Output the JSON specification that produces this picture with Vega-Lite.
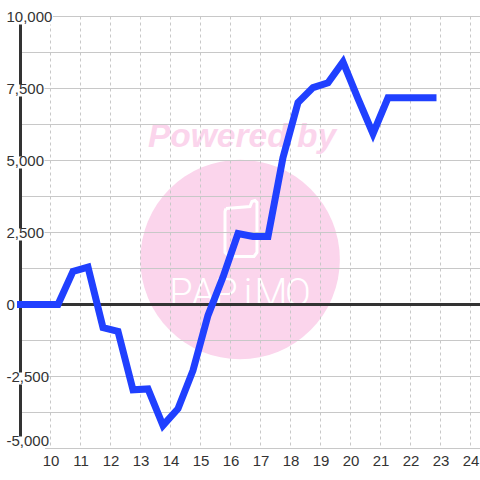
{
"$schema":"https://vega.github.io/schema/vega-lite/v6.json",
"width":459.5,"height":432,
"autosize":{"type":"none"},
"padding":{"left":20.5,"top":16.5,"right":0,"bottom":31.5},
"background":"white",
"view":{"stroke":null},
"config":{"axis":{"labelFont":"Liberation Sans","labelFontSize":15,"labelColor":"#333333"}},
"datasets":{
"series":[
{"hour":9,"v":0},{"hour":9.75,"v":0},{"hour":10.25,"v":0},{"hour":10.75,"v":1150},{"hour":11.25,"v":1300},{"hour":11.75,"v":-800},{"hour":12.25,"v":-930},{"hour":12.75,"v":-2960},{"hour":13.25,"v":-2930},{"hour":13.75,"v":-4200},{"hour":14.25,"v":-3620},{"hour":14.75,"v":-2290},{"hour":15.25,"v":-380},{"hour":15.75,"v":950},{"hour":16.25,"v":2465},{"hour":16.75,"v":2360},{"hour":17.25,"v":2360},{"hour":17.75,"v":5100},{"hour":18.25,"v":7010},{"hour":18.75,"v":7530},{"hour":19.25,"v":7700},{"hour":19.75,"v":8420},{"hour":20.25,"v":7150},{"hour":20.75,"v":5930},{"hour":21.25,"v":7175},{"hour":21.75,"v":7175},{"hour":22.25,"v":7175},{"hour":22.75,"v":7175}],
"ygrid":[{"v":-5000},{"v":-3750},{"v":-2500},{"v":-1250},{"v":0},{"v":1250},{"v":2500},{"v":3750},{"v":5000},{"v":6250},{"v":7500},{"v":8750},{"v":10000}],
"xgrid":[{"h":10},{"h":11},{"h":12},{"h":13},{"h":14},{"h":15},{"h":16},{"h":17},{"h":18},{"h":19},{"h":20},{"h":21},{"h":22},{"h":23},{"h":24}],
"knock":[
{"x1":8.9,"x2":10.083,"y1":10278,"y2":9722},
{"x1":8.9,"x2":9.8,"y1":7639,"y2":7222},
{"x1":8.9,"x2":9.8,"y1":5139,"y2":4722},
{"x1":8.9,"x2":9.8,"y1":2639,"y2":2222},
{"x1":8.9,"x2":9.8,"y1":-2361,"y2":-2778},
{"x1":8.9,"x2":9.82,"y1":-4583,"y2":-5139}],
"logo":[
{"s":1,"x":15.85,"y":3333},{"s":2,"x":16.65,"y":3403},{"s":3,"x":16.717,"y":3576},{"s":4,"x":16.817,"y":3611},{"s":5,"x":16.883,"y":3542},{"s":6,"x":16.883,"y":1806},{"s":7,"x":16.783,"y":1667},{"s":8,"x":15.95,"y":1667},{"s":9,"x":15.817,"y":1806},{"s":10,"x":15.817,"y":3229},{"s":11,"x":15.85,"y":3333}],
"letters":[
{"t":"P","x":14.35,"b":-35},{"t":"A","x":15.1,"b":-35},{"t":"P","x":15.85,"b":-35},{"t":"i","x":16.58,"b":-35},{"t":"M","x":17.35,"b":-35},{"t":"O","x":18.25,"b":-35}]
},
"layer":[
{"data":{"values":[{"x":16.32,"y":1562}]},"mark":{"type":"point","shape":"circle","filled":true,"opacity":1,"color":"#fbd5ec","size":39800},
 "encoding":{"x":{"field":"x","type":"quantitative","scale":{"domain":[9,24.317],"nice":false,"zero":false},"axis":{"values":[10,11,12,13,14,15,16,17,18,19,20,21,22,23,24],"format":"d","title":null,"grid":false,"domain":false,"ticks":false,"labelPadding":5,"labelFlush":false,"labelOverlap":false,"zindex":1}},
 "y":{"field":"y","type":"quantitative","scale":{"domain":[-5000,10000],"nice":false,"zero":false},"axis":{"values":[-5000,-2500,0,2500,5000,7500,10000],"labelExpr":"(datum.value<0?'-':'')+format(abs(datum.value),',.0f')","title":null,"grid":false,"domain":false,"ticks":false,"labelAlign":"left","labelBaseline":{"condition":{"test":"datum.value==-5000","value":"bottom"},"value":"middle"},"labelPadding":14.5,"labelFlush":false,"labelOverlap":false,"zindex":1,"encode":{"labels":{"update":{"dx":{"signal":"datum.value<0?-4:datum.value==0?2:0"}}}}}}}},
{"data":{"values":[{"x":13.25,"y":5486,"t":"Powered by"}]},"mark":{"type":"text","align":"left","baseline":"alphabetic","font":"Liberation Sans","fontSize":33.5,"fontWeight":"bold","fontStyle":"italic","color":"#fbd5ec"},
 "encoding":{"x":{"field":"x","type":"quantitative","axis":{"values":[10,11,12,13,14,15,16,17,18,19,20,21,22,23,24],"format":"d","title":null,"grid":false,"domain":false,"ticks":false,"labelPadding":5,"labelFlush":false,"labelOverlap":false,"zindex":1}},"y":{"field":"y","type":"quantitative","axis":{"values":[-5000,-2500,0,2500,5000,7500,10000],"labelExpr":"(datum.value<0?'-':'')+format(abs(datum.value),',.0f')","title":null,"grid":false,"domain":false,"ticks":false,"labelAlign":"left","labelBaseline":{"condition":{"test":"datum.value==-5000","value":"bottom"},"value":"middle"},"labelPadding":14.5,"labelFlush":false,"labelOverlap":false,"zindex":1,"encode":{"labels":{"update":{"dx":{"signal":"datum.value<0?-4:datum.value==0?2:0"}}}}}},"text":{"field":"t"}}},
{"data":{"name":"logo"},"mark":{"type":"line","color":"white","strokeWidth":3,"interpolate":"linear"},
 "encoding":{"x":{"field":"x","type":"quantitative","axis":{"values":[10,11,12,13,14,15,16,17,18,19,20,21,22,23,24],"format":"d","title":null,"grid":false,"domain":false,"ticks":false,"labelPadding":5,"labelFlush":false,"labelOverlap":false,"zindex":1}},"y":{"field":"y","type":"quantitative","axis":{"values":[-5000,-2500,0,2500,5000,7500,10000],"labelExpr":"(datum.value<0?'-':'')+format(abs(datum.value),',.0f')","title":null,"grid":false,"domain":false,"ticks":false,"labelAlign":"left","labelBaseline":{"condition":{"test":"datum.value==-5000","value":"bottom"},"value":"middle"},"labelPadding":14.5,"labelFlush":false,"labelOverlap":false,"zindex":1,"encode":{"labels":{"update":{"dx":{"signal":"datum.value<0?-4:datum.value==0?2:0"}}}}}},"order":{"field":"s"}}},
{"data":{"name":"letters"},"mark":{"type":"text","align":"center","baseline":"alphabetic","font":"Roboto","fontSize":38,"fontWeight":300,"color":"white"},
 "encoding":{"x":{"field":"x","type":"quantitative","axis":{"values":[10,11,12,13,14,15,16,17,18,19,20,21,22,23,24],"format":"d","title":null,"grid":false,"domain":false,"ticks":false,"labelPadding":5,"labelFlush":false,"labelOverlap":false,"zindex":1}},"y":{"field":"b","type":"quantitative","axis":{"values":[-5000,-2500,0,2500,5000,7500,10000],"labelExpr":"(datum.value<0?'-':'')+format(abs(datum.value),',.0f')","title":null,"grid":false,"domain":false,"ticks":false,"labelAlign":"left","labelBaseline":{"condition":{"test":"datum.value==-5000","value":"bottom"},"value":"middle"},"labelPadding":14.5,"labelFlush":false,"labelOverlap":false,"zindex":1,"encode":{"labels":{"update":{"dx":{"signal":"datum.value<0?-4:datum.value==0?2:0"}}}}}},"text":{"field":"t"}}},
{"data":{"name":"ygrid"},"mark":{"type":"rule","color":"#c8c8c8","strokeWidth":1},"encoding":{"y":{"field":"v","type":"quantitative","axis":{"values":[-5000,-2500,0,2500,5000,7500,10000],"labelExpr":"(datum.value<0?'-':'')+format(abs(datum.value),',.0f')","title":null,"grid":false,"domain":false,"ticks":false,"labelAlign":"left","labelBaseline":{"condition":{"test":"datum.value==-5000","value":"bottom"},"value":"middle"},"labelPadding":14.5,"labelFlush":false,"labelOverlap":false,"zindex":1,"encode":{"labels":{"update":{"dx":{"signal":"datum.value<0?-4:datum.value==0?2:0"}}}}}}}},
{"data":{"name":"xgrid"},"mark":{"type":"rule","color":"#c8c8c8","strokeWidth":1,"strokeDash":[3,3]},"encoding":{"x":{"field":"h","type":"quantitative","axis":{"values":[10,11,12,13,14,15,16,17,18,19,20,21,22,23,24],"format":"d","title":null,"grid":false,"domain":false,"ticks":false,"labelPadding":5,"labelFlush":false,"labelOverlap":false,"zindex":1}}}},
{"data":{"values":[{"v":0}]},"mark":{"type":"rule","color":"#333333","strokeWidth":3},"encoding":{"y":{"field":"v","type":"quantitative","axis":{"values":[-5000,-2500,0,2500,5000,7500,10000],"labelExpr":"(datum.value<0?'-':'')+format(abs(datum.value),',.0f')","title":null,"grid":false,"domain":false,"ticks":false,"labelAlign":"left","labelBaseline":{"condition":{"test":"datum.value==-5000","value":"bottom"},"value":"middle"},"labelPadding":14.5,"labelFlush":false,"labelOverlap":false,"zindex":1,"encode":{"labels":{"update":{"dx":{"signal":"datum.value<0?-4:datum.value==0?2:0"}}}}}}}},
{"data":{"values":[{"h":9}]},"mark":{"type":"rule","color":"#333333","strokeWidth":3},"encoding":{"x":{"field":"h","type":"quantitative","axis":{"values":[10,11,12,13,14,15,16,17,18,19,20,21,22,23,24],"format":"d","title":null,"grid":false,"domain":false,"ticks":false,"labelPadding":5,"labelFlush":false,"labelOverlap":false,"zindex":1}}}},
{"data":{"name":"knock"},"mark":{"type":"rect","color":"white"},"encoding":{"x":{"field":"x1","type":"quantitative","axis":{"values":[10,11,12,13,14,15,16,17,18,19,20,21,22,23,24],"format":"d","title":null,"grid":false,"domain":false,"ticks":false,"labelPadding":5,"labelFlush":false,"labelOverlap":false,"zindex":1}},"x2":{"field":"x2"},"y":{"field":"y1","type":"quantitative","axis":{"values":[-5000,-2500,0,2500,5000,7500,10000],"labelExpr":"(datum.value<0?'-':'')+format(abs(datum.value),',.0f')","title":null,"grid":false,"domain":false,"ticks":false,"labelAlign":"left","labelBaseline":{"condition":{"test":"datum.value==-5000","value":"bottom"},"value":"middle"},"labelPadding":14.5,"labelFlush":false,"labelOverlap":false,"zindex":1,"encode":{"labels":{"update":{"dx":{"signal":"datum.value<0?-4:datum.value==0?2:0"}}}}}},"y2":{"field":"y2"}}},
{"data":{"name":"series"},"mark":{"type":"line","color":"#2040ff","strokeWidth":7,"strokeCap":"square","strokeJoin":"miter"},"encoding":{"x":{"field":"hour","type":"quantitative","axis":{"values":[10,11,12,13,14,15,16,17,18,19,20,21,22,23,24],"format":"d","title":null,"grid":false,"domain":false,"ticks":false,"labelPadding":5,"labelFlush":false,"labelOverlap":false,"zindex":1}},"y":{"field":"v","type":"quantitative","axis":{"values":[-5000,-2500,0,2500,5000,7500,10000],"labelExpr":"(datum.value<0?'-':'')+format(abs(datum.value),',.0f')","title":null,"grid":false,"domain":false,"ticks":false,"labelAlign":"left","labelBaseline":{"condition":{"test":"datum.value==-5000","value":"bottom"},"value":"middle"},"labelPadding":14.5,"labelFlush":false,"labelOverlap":false,"zindex":1,"encode":{"labels":{"update":{"dx":{"signal":"datum.value<0?-4:datum.value==0?2:0"}}}}}}}}
]
}
